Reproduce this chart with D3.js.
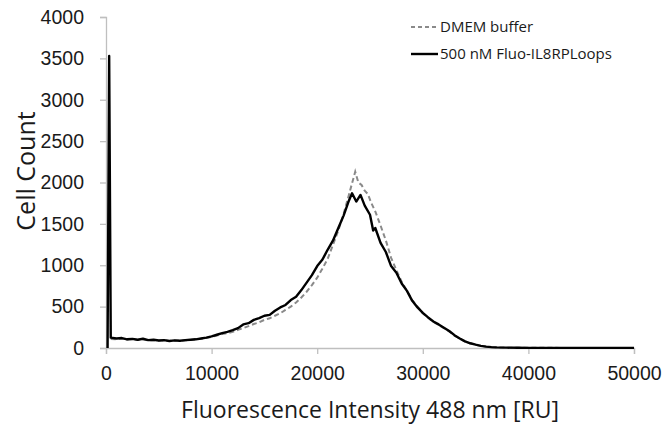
<!DOCTYPE html>
<html>
<head>
<meta charset="utf-8">
<script src="https://cdn.jsdelivr.net/npm/d3@7"></script>
<style>
  body { margin: 0; background: #fff; }
  svg { font-family: "Open Sans", sans-serif; }
</style>
</head>
<body>
<div id="chart"></div>
<script>
// fluorescence intensity bins [RU] and cell counts
const fluoIntensity = [150, 300, 450, 1000, 1500, 2000, 2500, 3000, 3500, 4000, 4500, 5000, 5500, 6000, 6500, 7000, 7500, 8000, 8500, 9000, 9500,
  10000, 10500, 11000, 11500, 12000, 12500, 13000, 13500, 14000, 14500, 15000, 15500, 16000, 16500, 17000, 17500, 18000, 18500, 19000, 19500,
  20000, 20500, 21000, 21500, 22000, 22500, 23000, 23300, 23700, 24100, 24500, 25000, 25300, 25500, 26000, 26500, 27000, 27500, 28000, 28500,
  29000, 29500, 30000, 30500, 31000, 31500, 32000, 32500, 33000, 33500, 34000, 34500, 35000, 35500, 36000, 36500, 37000, 38000, 39000, 40000,
  42000, 44000, 46000, 48000, 50000];
const fluoCount = [0, 3530, 125, 115, 120, 105, 110, 100, 112, 95, 100, 90, 95, 85, 92, 88, 95, 100, 105, 115, 125,
  140, 160, 180, 195, 215, 240, 285, 300, 340, 360, 390, 400, 450, 490, 520, 580, 620, 700, 790, 880,
  990, 1070, 1190, 1300, 1450, 1600, 1780, 1870, 1770, 1850, 1720, 1610, 1420, 1450, 1270, 1160, 990, 910, 780, 690,
  570, 490, 425, 370, 320, 285, 245, 205, 155, 115, 80, 57, 40, 26, 16, 10, 7, 4, 3, 2,
  2, 1, 1, 1, 1];

const bufferIntensity = [450, 1000, 1500, 2000, 2500, 3000, 3500, 4000, 4500, 5000, 5500, 6000, 6500, 7000, 7500, 8000, 8500, 9000, 9500,
  10000, 10500, 11000, 11500, 12000, 12500, 13000, 13500, 14000, 14500, 15000, 15500, 16000, 16500, 17000, 17500, 18000, 18500, 19000, 19500,
  20000, 20500, 21000, 21500, 22000, 22500, 23000, 23300, 23600, 23900, 24200, 24500, 24800, 25100, 25500, 26000, 26500, 27000, 27500, 28000, 28500,
  29000, 29500, 30000, 30500, 31000, 31500, 32000, 32500, 33000, 33500, 34000, 34500, 35000, 35500, 36000, 36500, 37000, 38000, 39000, 40000,
  42000, 44000, 46000, 48000, 50000];
const bufferCount = [110, 105, 115, 100, 108, 98, 105, 92, 98, 88, 92, 85, 90, 86, 92, 98, 105, 112, 122,
  135, 150, 168, 180, 195, 220, 240, 265, 290, 310, 340, 360, 390, 420, 460, 500, 550, 610, 680, 760,
  850, 960, 1080, 1250, 1420, 1620, 1850, 1990, 2130, 2000, 1970, 1900, 1860, 1760, 1650, 1480, 1300, 1090, 940, 800, 690,
  580, 500, 420, 365, 315, 280, 240, 200, 150, 112, 78, 55, 38, 25, 15, 9, 6, 4, 3, 2,
  2, 1, 1, 1, 1];

const xTicks = [0, 10000, 20000, 30000, 40000, 50000];
const yTicks = [0, 500, 1000, 1500, 2000, 2500, 3000, 3500, 4000];
const seriesNames = ["DMEM buffer", "500 nM Fluo-IL8RPLoops"];

const width = 665, height = 428;
const margin = { top: 17, right: 31, bottom: 80, left: 106 };

const svg = d3.select("#chart").append("svg")
  .attr("width", width)
  .attr("height", height);

const x = d3.scaleLinear().domain([0, 50000]).range([margin.left, width - margin.right]);
const y = d3.scaleLinear().domain([0, 4000]).range([height - margin.bottom, margin.top]);

// axes
const xAxis = svg.append("g")
  .attr("transform", `translate(0,${height - margin.bottom})`)
  .call(d3.axisBottom(x).tickValues(xTicks).tickSize(6).tickPadding(8).tickFormat(d3.format("d")));
const yAxis = svg.append("g")
  .attr("transform", `translate(${margin.left},0)`)
  .call(d3.axisLeft(y).tickValues(yTicks).tickSize(6).tickPadding(16).tickFormat(d3.format("d")));

[xAxis, yAxis].forEach((g) => {
  g.select(".domain").attr("stroke", "#bfbfbf").attr("stroke-width", 1.3);
  g.selectAll(".tick line").attr("stroke", "#bfbfbf").attr("stroke-width", 1.3);
  g.selectAll(".tick text").attr("fill", "#1a1a1a").style("font-size", "19.5px");
});
xAxis.selectAll(".tick text").attr("dy", "0.9em");

// lines
const line = d3.line().x((d) => x(d[0])).y((d) => y(d[1]));

svg.append("path")
  .datum(d3.zip(bufferIntensity, bufferCount))
  .attr("fill", "none")
  .attr("stroke", "#8a8a8a")
  .attr("stroke-width", 2)
  .attr("stroke-dasharray", "5,3")
  .attr("d", line);

svg.append("path")
  .datum(d3.zip(fluoIntensity, fluoCount))
  .attr("fill", "none")
  .attr("stroke", "#000")
  .attr("stroke-width", 2.4)
  .attr("stroke-linejoin", "round")
  .attr("d", line);

// legend
const legend = svg.append("g").attr("transform", "translate(411,27)");
seriesNames.forEach((name, i) => {
  const row = legend.append("g").attr("transform", `translate(0,${i * 27})`);
  row.append("line")
    .attr("x1", 0).attr("x2", 27)
    .attr("stroke", i === 0 ? "#8a8a8a" : "#000")
    .attr("stroke-width", i === 0 ? 2 : 2.4)
    .attr("stroke-dasharray", i === 0 ? "4,3" : null);
  row.append("text")
    .attr("x", 29)
    .attr("dy", "0.35em")
    .style("font-size", "15px")
    .attr("fill", "#1a1a1a")
    .text(name);
});

// axis titles
svg.append("text")
  .attr("x", (margin.left + width - margin.right) / 2)
  .attr("y", 418)
  .attr("text-anchor", "middle")
  .style("font-size", "23px")
  .attr("fill", "#1a1a1a")
  .text("Fluorescence Intensity 488 nm [RU]");

svg.append("text")
  .attr("transform", "rotate(-90)")
  .attr("x", -171)
  .attr("y", 35)
  .attr("text-anchor", "middle")
  .style("font-size", "25px")
  .attr("fill", "#1a1a1a")
  .text("Cell Count");
</script>
</body>
</html>
